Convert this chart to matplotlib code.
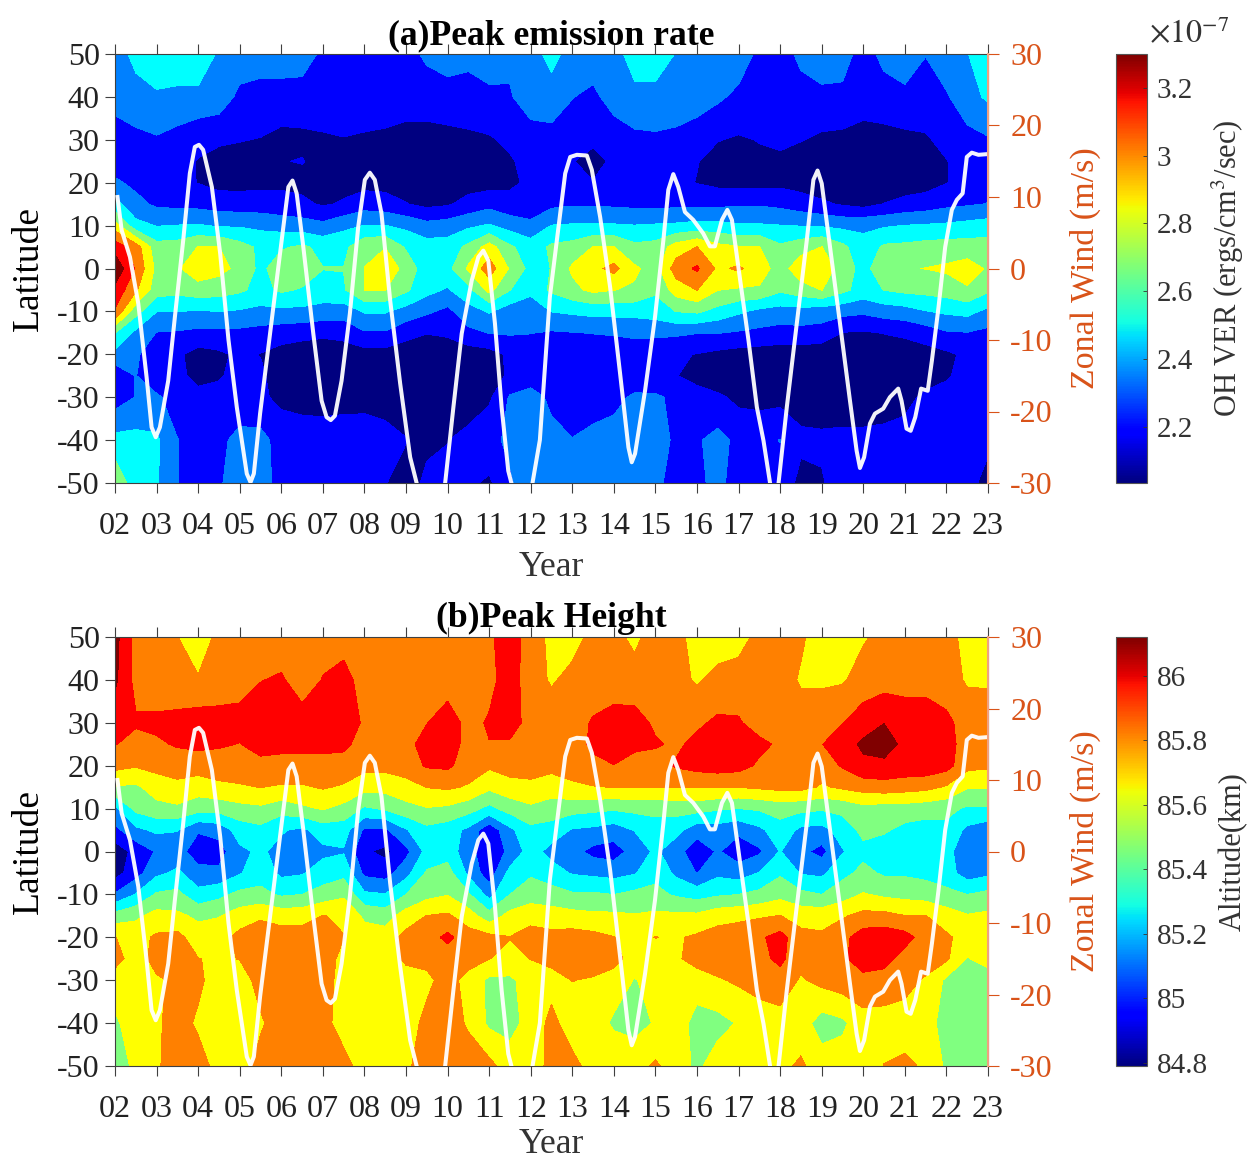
# -*- coding: utf-8 -*-
import numpy as np
import matplotlib
matplotlib.use("Agg")
import matplotlib.pyplot as plt
from matplotlib.cm import ScalarMappable
from matplotlib.colors import Normalize

plt.rcParams['font.family'] = ['Liberation Serif', 'DejaVu Serif']
plt.rcParams['mathtext.fontset'] = 'stix'
plt.rcParams['axes.unicode_minus'] = False

""" data """
### half-year grid 2002..2023, latitude rows from 50N to 50S ###
YEARS = [2 + 0.5 * i for i in range(43)]
LATS = [50, 40, 30, 25, 20, 15, 10, 5, 0, -5, -10, -15, -20, -25, -30, -40, -50]
YEAR_LABELS = ['%02d' % y for y in range(2, 24)]

# peak emission rate, in 1e-9 ergs/cm3/sec
VER = [
[238,250,253,253,253,244,240,240,240,240,228,230,225,225,225,235,240,236,240,235,240,250,240,240,240,252,252,245,240,240,240,228,225,235,240,238,225,236,240,232,240,245,255],
[238,240,244,243,243,240,228,225,225,224,224,224,224,224,222,222,224,225,228,230,240,240,232,228,238,242,242,242,240,234,228,224,224,226,228,228,224,225,228,225,230,240,248],
[223,228,230,226,220,219,218,217,214,215,216,217,216,215,214,214,214,215,216,220,224,226,224,220,223,228,229,227,222,218,216,218,220,218,215,214,212,213,214,216,221,227,230],
[224,224,223,220,217,214,213,214,217,218,214,212,212,211,211,211,211,211,212,216,222,224,218,213,220,224,225,222,218,213,212,215,215,212,208,207,206,207,208,212,217,223,225],
[234,228,224,222,217,213,213,214,215,214,213,213,213,213,212,210,210,212,212,215,220,222,221,218,222,224,224,221,217,214,213,213,214,212,209,207,206,208,210,212,217,222,226],
[250,236,229,228,227,225,224,224,222,220,216,219,225,223,218,214,216,222,227,222,220,228,230,230,229,228,228,228,228,228,230,230,228,224,220,216,213,218,222,224,228,230,232],
[280,250,245,246,247,244,244,242,240,238,235,242,246,246,242,236,238,243,247,240,236,246,247,247,247,246,247,248,250,250,247,247,246,245,244,242,243,244,246,247,248,250,252],
[310,295,265,266,274,274,265,257,258,262,256,256,270,273,258,252,252,263,280,262,252,262,265,274,274,263,265,280,288,278,275,274,262,268,274,263,250,262,263,265,266,266,266],
[327,300,270,272,282,278,270,256,268,270,260,260,274,285,268,252,255,276,295,272,255,260,276,284,292,276,268,295,304,285,290,280,268,282,282,268,254,270,273,274,276,280,272],
[312,290,266,264,268,266,262,255,262,258,254,258,274,274,262,250,244,255,278,260,250,262,270,277,274,272,262,280,288,274,272,272,262,268,274,263,254,260,263,264,266,272,262],
[300,265,246,246,244,246,244,242,242,242,240,238,247,247,240,234,228,240,247,238,235,246,248,250,250,250,252,260,262,255,248,242,240,240,238,236,234,238,240,245,248,250,242],
[260,242,231,230,228,228,228,226,224,222,220,222,230,230,222,218,220,228,232,233,232,230,231,232,233,235,235,234,232,232,230,228,226,227,226,217,216,218,220,224,230,231,228],
[242,234,222,220,212,215,220,217,212,210,210,210,212,212,210,208,208,210,212,220,222,222,221,222,222,222,220,219,217,214,212,211,210,210,208,206,206,208,210,212,215,220,220],
[220,232,220,222,212,216,222,220,210,208,208,208,208,208,206,205,205,207,210,220,223,224,225,225,224,222,220,218,212,208,208,208,208,206,205,205,205,207,209,212,216,222,222],
[224,232,234,224,223,222,222,220,214,212,212,213,214,212,210,207,207,209,215,233,238,228,224,224,227,234,234,228,224,220,214,213,213,212,210,207,207,210,214,220,222,224,224],
[250,250,248,232,226,228,236,236,226,225,224,224,223,222,218,215,217,222,228,234,238,236,232,236,238,240,240,228,230,236,228,227,232,220,220,222,222,222,222,222,225,226,222],
[272,250,247,232,225,230,238,238,226,226,224,224,223,218,212,220,222,220,215,230,238,236,238,238,238,238,236,224,228,236,224,224,225,214,216,225,225,225,225,225,225,225,210],
]

# peak height, in km
HEIGHT = [
[86.02,85.78,85.72,85.68,85.58,85.72,85.82,85.75,85.75,85.75,85.78,85.76,85.76,85.76,85.76,85.76,85.76,85.78,85.80,85.90,85.75,85.64,85.62,85.72,85.72,85.64,85.75,85.72,85.62,85.60,85.62,85.72,85.76,85.70,85.60,85.64,85.66,85.72,85.76,85.76,85.74,85.62,85.60],
[86.00,85.78,85.72,85.70,85.69,85.74,85.76,85.82,85.84,85.76,85.83,85.88,85.76,85.75,85.75,85.75,85.75,85.76,85.78,85.90,85.74,85.66,85.72,85.74,85.75,85.74,85.74,85.72,85.66,85.72,85.74,85.75,85.74,85.66,85.66,85.66,85.74,85.76,85.76,85.76,85.74,85.66,85.66],
[85.88,85.84,85.86,85.88,85.90,85.88,85.88,85.90,85.92,85.88,85.90,85.92,85.80,85.76,85.78,85.82,85.90,85.78,85.84,85.90,85.76,85.76,85.76,85.84,85.88,85.88,85.80,85.78,85.80,85.85,85.84,85.76,85.75,85.74,85.74,85.82,85.90,85.97,85.92,85.92,85.86,85.76,85.74],
[85.83,85.78,85.80,85.84,85.86,85.84,85.82,85.88,85.86,85.86,85.86,85.86,85.76,85.74,85.78,85.88,85.92,85.76,85.82,85.80,85.74,85.72,85.74,85.86,85.90,85.85,85.84,85.80,85.86,85.90,85.90,85.86,85.80,85.76,85.82,85.90,86.00,86.03,85.94,85.92,85.88,85.76,85.74],
[85.72,85.69,85.72,85.74,85.74,85.76,85.76,85.78,85.78,85.78,85.78,85.76,85.72,85.72,85.75,85.84,85.85,85.76,85.70,85.74,85.74,85.72,85.74,85.78,85.82,85.78,85.76,85.84,85.88,85.90,85.88,85.80,85.82,85.76,85.74,85.84,85.94,85.94,85.92,85.92,85.88,85.72,85.70],
[85.52,85.50,85.60,85.64,85.60,85.64,85.66,85.68,85.66,85.66,85.69,85.66,85.58,85.58,85.62,85.68,85.70,85.66,85.56,85.62,85.64,85.60,85.65,85.67,85.68,85.68,85.68,85.68,85.68,85.68,85.68,85.70,85.72,85.72,85.66,85.70,85.74,85.76,85.74,85.72,85.66,85.54,85.54],
[85.20,85.42,85.48,85.50,85.44,85.44,85.48,85.50,85.44,85.50,85.54,85.48,85.36,85.40,85.48,85.52,85.50,85.44,85.34,85.44,85.50,85.46,85.44,85.42,85.40,85.42,85.42,85.44,85.44,85.40,85.38,85.40,85.44,85.42,85.40,85.42,85.48,85.46,85.46,85.44,85.42,85.36,85.36],
[85.04,85.20,85.26,85.24,85.10,85.14,85.30,85.34,85.25,85.20,85.30,85.30,85.06,85.06,85.22,85.34,85.30,85.20,84.98,85.20,85.34,85.32,85.22,85.20,85.16,85.24,85.32,85.28,85.14,85.16,85.12,85.20,85.32,85.20,85.18,85.30,85.42,85.40,85.34,85.32,85.34,85.20,85.14],
[84.86,84.98,85.10,85.15,85.00,85.02,85.20,85.26,85.18,85.12,85.20,85.22,84.96,84.90,85.04,85.28,85.32,85.14,84.98,85.12,85.30,85.18,85.14,85.04,85.02,85.14,85.26,85.14,85.00,85.10,85.00,85.06,85.24,85.12,85.04,85.22,85.34,85.30,85.28,85.28,85.28,85.14,85.10],
[84.88,85.02,85.20,85.26,85.14,85.12,85.22,85.32,85.20,85.22,85.30,85.34,85.05,85.02,85.18,85.40,85.44,85.20,85.00,85.28,85.36,85.30,85.22,85.20,85.18,85.22,85.34,85.20,85.08,85.20,85.16,85.24,85.36,85.22,85.20,85.34,85.42,85.36,85.36,85.34,85.30,85.16,85.20],
[85.10,85.24,85.40,85.42,85.28,85.34,85.42,85.42,85.36,85.38,85.44,85.50,85.26,85.24,85.38,85.48,85.52,85.40,85.18,85.38,85.46,85.44,85.40,85.40,85.38,85.42,85.42,85.36,85.32,85.36,85.38,85.42,85.48,85.42,85.38,85.46,85.54,85.50,85.48,85.46,85.42,85.38,85.42],
[85.44,85.50,85.58,85.56,85.50,85.52,85.60,85.66,85.62,85.62,85.68,85.66,85.50,85.46,85.60,85.68,85.70,85.60,85.44,85.58,85.62,85.60,85.58,85.56,85.56,85.54,85.56,85.56,85.56,85.62,85.64,85.66,85.68,85.62,85.62,85.66,85.72,85.72,85.68,85.68,85.60,85.54,85.56],
[85.68,85.62,85.70,85.72,85.60,85.62,85.72,85.74,85.74,85.74,85.74,85.68,85.60,85.60,85.72,85.76,85.86,85.74,85.72,85.68,85.74,85.72,85.74,85.72,85.68,85.64,85.68,85.66,85.70,85.74,85.76,85.80,85.88,85.72,85.70,85.78,85.90,85.92,85.88,85.76,85.70,85.62,85.60],
[85.72,85.62,85.72,85.74,85.68,85.66,85.68,85.72,85.74,85.74,85.74,85.64,85.60,85.62,85.70,85.72,85.74,85.74,85.68,85.64,85.68,85.72,85.76,85.76,85.72,85.62,85.60,85.66,85.72,85.76,85.76,85.78,85.86,85.72,85.72,85.80,85.90,85.88,85.76,85.74,85.70,85.52,85.58],
[85.62,85.60,85.66,85.70,85.70,85.62,85.62,85.72,85.74,85.74,85.74,85.62,85.60,85.60,85.62,85.64,85.74,85.62,85.50,85.50,85.60,85.62,85.68,85.66,85.62,85.52,85.58,85.60,85.62,85.66,85.70,85.72,85.76,85.66,85.72,85.76,85.78,85.76,85.72,85.66,85.50,85.46,85.46],
[85.50,85.62,85.66,85.72,85.66,85.60,85.60,85.66,85.74,85.74,85.72,85.62,85.62,85.62,85.60,85.72,85.74,85.66,85.50,85.48,85.58,85.72,85.60,85.62,85.50,85.48,85.54,85.62,85.46,85.48,85.54,85.62,85.62,85.60,85.46,85.50,85.62,85.62,85.62,85.60,85.46,85.44,85.40],
[85.36,85.60,85.66,85.74,85.72,85.64,85.62,85.72,85.78,85.76,85.80,85.72,85.62,85.62,85.66,85.72,85.74,85.74,85.72,85.60,85.60,85.72,85.72,85.62,85.66,85.62,85.70,85.60,85.50,85.60,85.62,85.62,85.64,85.70,85.60,85.60,85.60,85.68,85.70,85.66,85.50,85.38,85.50],
]

# zonal wind line
WIND_T = [2.06,2.16,2.36,2.56,2.76,2.88,2.98,3.08,3.28,3.44,3.64,3.80,3.92,4.02,4.12,4.33,4.53,4.73,4.93,5.17,5.26,5.34,5.49,5.73,5.97,6.17,6.27,6.37,6.53,6.77,6.97,7.09,7.19,7.29,7.45,7.65,7.85,8.01,8.13,8.25,8.41,8.62,8.86,9.10,9.26,9.58,9.94,10.14,10.34,10.58,10.74,10.86,10.98,11.14,11.30,11.46,11.54,11.78,12.04,12.22,12.46,12.63,12.83,12.95,13.11,13.35,13.47,13.67,13.91,14.15,14.35,14.43,14.51,14.75,14.99,15.19,15.31,15.43,15.55,15.71,15.91,16.15,16.31,16.43,16.60,16.73,16.84,17.04,17.24,17.44,17.60,17.76,17.84,17.96,18.16,18.40,18.64,18.80,18.90,19.00,19.20,19.44,19.68,19.84,19.92,20.02,20.16,20.28,20.48,20.64,20.84,20.92,21.04,21.14,21.25,21.39,21.55,21.65,21.81,21.97,22.13,22.25,22.39,22.49,22.61,22.77,22.99]
WIND_U = [10.0,5.35,1.6,-4.9,-15.2,-22.2,-23.6,-22.2,-15.7,-6.8,3.9,13.3,17.0,17.3,16.6,11.4,2.1,-10.0,-19.4,-28.7,-29.9,-28.7,-20.3,-9.1,2.1,11.4,12.3,10.5,3.0,-9.1,-18.5,-20.8,-21.2,-20.6,-15.7,-6.3,5.8,12.4,13.4,12.4,7.7,-4.5,-16.1,-26.4,-30.1,-36.0,-30.1,-19.4,-9.1,-1.7,1.6,2.5,1.1,-7.7,-19.4,-28.3,-30.1,-36.0,-30.1,-24.0,-4.0,4.0,13.3,15.6,15.9,15.8,13.8,7.2,-2.6,-14.7,-25.0,-27.1,-25.9,-17.1,-6.8,3.9,11.0,13.2,11.4,7.9,6.8,4.9,3.1,3.1,6.8,8.2,6.8,-1.7,-10.1,-19.4,-24.1,-30.1,-35.7,-30.1,-19.4,-7.7,3.9,12.4,13.7,11.9,3.0,-7.7,-18.5,-25.5,-27.9,-26.4,-21.7,-20.3,-19.6,-18.0,-16.8,-18.5,-22.4,-22.7,-20.8,-16.8,-17.1,-12.9,-5.4,3.0,8.2,9.6,10.5,15.6,16.2,15.9,16.0]

""" constants """
FIG_W, FIG_H = 1250, 1162
AX_LEFT, AX_RIGHT = 115, 988
CB_LEFT, CB_RIGHT = 1116, 1147
GREY = '#404040'
ORANGE = '#D95319'
BANDS = ['#000080', '#0000FF', '#0080FF', '#00FFFF', '#80FF80', '#FFFF00', '#FF8000', '#FF0000', '#800000']


def px_rect(left, right, top, bottom):
    ''' pixel box to figure fraction '''
    return [left / FIG_W, 1 - bottom / FIG_H, (right - left) / FIG_W, (bottom - top) / FIG_H]


def draw_panel(fig, top, bottom, data, vmin, vmax, ticks, ticklabels, title, cblabel, year_pad, cb_pad):
    ax = fig.add_axes(px_rect(AX_LEFT, AX_RIGHT, top, bottom))
    levels = np.linspace(vmin, vmax, 10)
    ax.contourf(YEARS, LATS, data, levels=levels, colors=BANDS, extend='both')
    ax.set_xlim(2, 23)
    ax.set_ylim(-50, 50)
    ax.set_xticks(range(2, 24))
    ax.set_xticklabels(YEAR_LABELS)
    ax.set_yticks(range(-50, 51, 10))
    ax.tick_params(axis='both', labelsize=23, direction='out', length=7, width=0.8,
                   color=GREY, labelcolor='#222222', top=True, pad=4)
    ax.tick_params(axis='x', pad=14)
    for s in ax.spines.values():
        s.set_color(GREY)
    ax.set_xlabel('Year', fontsize=25.5, color='#333333', labelpad=year_pad)
    ax.set_ylabel('Latitude', fontsize=27, color='black', labelpad=8)
    ax.set_title(title, fontsize=25.7, fontweight='bold', pad=7)

    # right axis, zonal wind
    ax2 = ax.twinx()
    ax2.plot(WIND_T, WIND_U, color='white', lw=2.9, alpha=0.95, solid_joinstyle='round')
    ax2.set_ylim(-30, 30)
    ax2.set_yticks(range(-30, 31, 10))
    ax2.tick_params(axis='y', labelsize=23, direction='out', length=8, width=0.8,
                    color=ORANGE, labelcolor=ORANGE, pad=8)
    ax2.spines['right'].set_color('#F0A080')
    ax2.spines['right'].set_linewidth(1.5)
    ax2.spines['left'].set_visible(False)
    ax2.spines['top'].set_visible(False)
    ax2.spines['bottom'].set_visible(False)
    ax2.set_ylabel('Zonal Wind (m/s)', fontsize=24.5, color=ORANGE, labelpad=12)

    # colorbar, continuous jet
    cax = fig.add_axes(px_rect(CB_LEFT, CB_RIGHT, top, bottom))
    sm = ScalarMappable(norm=Normalize(vmin, vmax), cmap='jet')
    cb = fig.colorbar(sm, cax=cax)
    cb.set_ticks(ticks)
    cb.set_ticklabels(ticklabels)
    cb.ax.tick_params(labelsize=21, direction='in', length=3, width=0.6, color='#333333',
                      labelcolor='#333333', pad=7)
    cb.outline.set_edgecolor('#555555')
    cb.outline.set_linewidth(0.8)
    cb.set_label(cblabel, fontsize=22, color='#333333', labelpad=cb_pad)
    return cb


if __name__ == '__main__':
    fig = plt.figure(figsize=(FIG_W / 100, FIG_H / 100), dpi=100)

    ver = np.array(VER) / 100.0
    height = np.array(HEIGHT)

    cb = draw_panel(fig, 54, 483, ver, 2.034, 3.30, [2.2, 2.4, 2.6, 2.8, 3.0, 3.2],
                    ['2.2', '2.4', '2.6', '2.8', '3', '3.2'],
                    '(a)Peak emission rate', r'OH VER (ergs/cm$^{3}$/sec)', 7, 12)
    fig.text(1149 / FIG_W, 1 - 43 / FIG_H, r'$\times 10^{-7}$', fontsize=23, color='#333333',
             ha='left', va='baseline')

    draw_panel(fig, 637, 1066, height, 84.79, 86.12, [84.8, 85, 85.2, 85.4, 85.6, 85.8, 86],
               ['84.8', '85', '85.2', '85.4', '85.6', '85.8', '86'],
               '(b)Peak Height', 'Altitude(km)', 3, 8)

    fig.savefig('out.png', dpi=100)
